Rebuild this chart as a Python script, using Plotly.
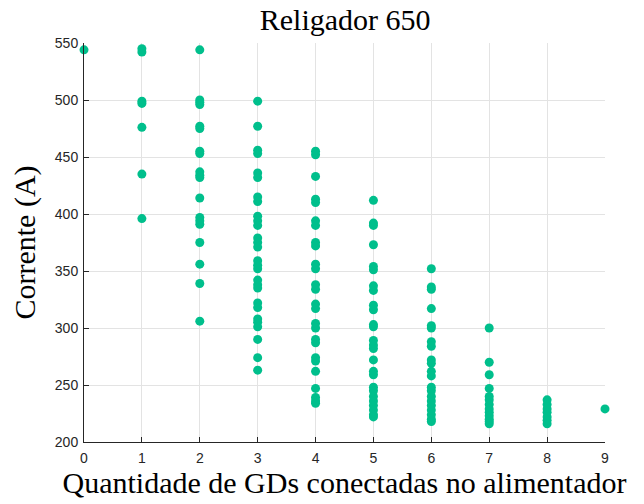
import plotly.graph_objects as go

# Corrente medida no religador 650 por quantidade de GDs conectadas
gd_0 = [544]
gd_1 = [545, 542, 499, 497, 476, 435, 396]
gd_2 = [544, 500, 498, 496, 477, 475, 455, 453, 437, 434, 432, 414, 397, 394,
        391, 375, 356, 339, 306]
gd_3 = [499, 477, 456, 453, 436, 432, 415, 411, 398, 394, 390, 379, 375, 371,
        359, 355, 352, 342, 338, 335, 322, 318, 308, 305, 301, 290, 274, 263]
gd_4 = [455, 452, 433, 413, 410, 394, 390, 375, 372, 356, 352, 338, 334, 321,
        317, 304, 300, 290, 287, 274, 271, 262, 247, 239, 236, 234]
gd_5 = [412, 392, 390, 373, 354, 351, 337, 333, 320, 316, 303, 301, 289, 285,
        282, 272, 262, 259, 248, 245, 240, 236, 232, 228, 224, 222]
gd_6 = [352, 336, 334, 317, 302, 300, 288, 284, 272, 269, 262, 258, 248, 245,
        240, 236, 232, 228, 224, 220, 218]
gd_7 = [300, 270, 259, 247, 240, 237, 233, 229, 226, 223, 220, 218, 216]
gd_8 = [237, 233, 229, 226, 222, 219, 216]
gd_9 = [229]

groups = [gd_0, gd_1, gd_2, gd_3, gd_4, gd_5, gd_6, gd_7, gd_8, gd_9]
x_ticks = list(range(10))
y_ticks = [200, 250, 300, 350, 400, 450, 500, 550]

xs, ys = [], []
for n, vals in zip(x_ticks, groups):
    xs.extend([n] * len(vals))
    ys.extend(vals)

fig = go.Figure(go.Scatter(
    x=xs, y=ys, mode="markers",
    marker=dict(color="rgb(0,191,140)", size=9, line=dict(width=0)),
    showlegend=False,
    cliponaxis=False,
))

serif = "Liberation Serif, DejaVu Serif, serif"
sans = "Liberation Sans, Arial, sans-serif"

fig.update_layout(
    width=644, height=504,
    margin=dict(l=84, r=39, t=43, b=62),
    paper_bgcolor="white", plot_bgcolor="white",
    title=dict(text="Religador 650", x=0.536, xanchor="center",
               y=0.962, yanchor="middle",
               font=dict(family=serif, size=30, color="black")),
    font=dict(family=sans, size=14, color="#262626"),
)
fig.update_xaxes(
    range=[0, 9], tickvals=x_ticks, ticktext=[str(v) for v in x_ticks],
    showgrid=True, gridcolor="#e3e3e3", gridwidth=1,
    showline=True, linecolor="#262626", linewidth=1,
    ticks="inside", ticklen=5, tickcolor="#262626",
    ticklabelstandoff=3,
    zeroline=False,
    title=dict(text="Quantidade de GDs conectadas no alimentador",
               font=dict(family=serif, size=30, color="black"), standoff=2),
)
fig.update_yaxes(
    range=[200, 550], tickvals=y_ticks,
    showgrid=True, gridcolor="#e3e3e3", gridwidth=1,
    showline=True, linecolor="#262626", linewidth=1,
    ticks="inside", ticklen=5, tickcolor="#262626",
    ticklabelstandoff=2,
    zeroline=False,
    title=dict(text="Corrente (A)",
               font=dict(family=serif, size=30, color="black"), standoff=10),
)

fig.write_html("out.html")
